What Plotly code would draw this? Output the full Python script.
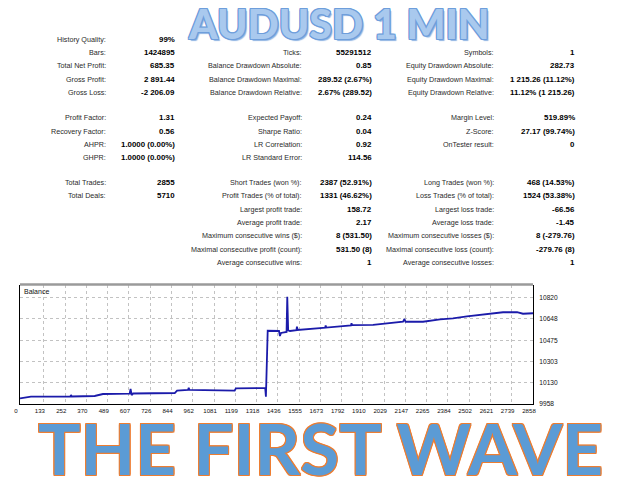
import plotly.graph_objects as go

# ---------------- data ----------------
balance_x = [0, 61, 267, 280, 284, 288, 416, 462, 611, 616, 622, 630, 862, 875, 936, 940, 944,
             1196, 1203, 1366, 1370, 1380, 1443, 1448, 1454, 1485, 1489, 1494, 1504, 1540, 1543,
             1547, 1671, 1700, 1703, 1706, 1844, 1847, 1850, 1967, 2134, 2142, 2148, 2245, 2340,
             2412, 2490, 2563, 2618, 2691, 2769, 2802, 2858]
balance_y = [10004, 10017, 10017, 10018, 10031, 10019, 10023, 10039, 10042, 10080, 10031, 10043,
             10047, 10067, 10072, 10090, 10072, 10067, 10085, 10088, 10017, 10552, 10550, 10509,
             10534, 10542, 10828, 10555, 10550, 10556, 10585, 10558, 10574, 10577, 10595, 10578,
             10596, 10612, 10597, 10599, 10625, 10647, 10625, 10625, 10645, 10653, 10669, 10680,
             10694, 10702, 10702, 10690, 10694]

x_ticks = [0, 133, 252, 370, 489, 607, 726, 844, 962, 1081, 1199, 1318, 1436, 1555, 1673,
           1792, 1910, 2029, 2147, 2265, 2384, 2502, 2621, 2739, 2858]
y_ticks = [9958, 10130, 10303, 10475, 10648, 10820]

col1_labels = ["History Quality:", "Bars:", "Total Net Profit:", "Gross Profit:", "Gross Loss:",
               "Profit Factor:", "Recovery Factor:", "AHPR:", "GHPR:",
               "Total Trades:", "Total Deals:", "", "", "", "", ""]
col1_values = ["99%", "1424895", "685.35", "2 891.44", "-2 206.09",
               "1.31", "0.56", "1.0000 (0.00%)", "1.0000 (0.00%)",
               "2855", "5710", "", "", "", "", ""]
col2_labels = ["", "Ticks:", "Balance Drawdown Absolute:", "Balance Drawdown Maximal:",
               "Balance Drawdown Relative:", "Expected Payoff:", "Sharpe Ratio:", "LR Correlation:",
               "LR Standard Error:", "Short Trades (won %):", "Profit Trades (% of total):",
               "Largest profit trade:", "Average profit trade:", "Maximum consecutive wins ($):",
               "Maximal consecutive profit (count):", "Average consecutive wins:"]
col2_values = ["", "55291512", "0.85", "289.52 (2.67%)", "2.67% (289.52)", "0.24", "0.04", "0.92",
               "114.56", "2387 (52.91%)", "1331 (46.62%)", "158.72", "2.17", "8 (531.50)",
               "531.50 (8)", "1"]
col3_labels = ["", "Symbols:", "Equity Drawdown Absolute:", "Equity Drawdown Maximal:",
               "Equity Drawdown Relative:", "Margin Level:", "Z-Score:", "OnTester result:", "",
               "Long Trades (won %):", "Loss Trades (% of total):", "Largest loss trade:",
               "Average loss trade:", "Maximum consecutive losses ($):",
               "Maximal consecutive loss (count):", "Average consecutive losses:"]
col3_values = ["", "1", "282.73", "1 215.26 (11.12%)", "11.12% (1 215.26)", "519.89%",
               "27.17 (99.74%)", "0", "", "468 (14.53%)", "1524 (53.38%)", "-66.56", "-1.45",
               "8 (-279.76)", "-279.76 (8)", "1"]

title_top = "AUDUSD 1 MIN"
title_bottom = "THE FIRST WAVE"
chart_label = "Balance"

# ---------------- layout constants ----------------
W, H = 640, 480
row_px = [39.3, 52.7, 66, 79.3, 92.7, 117.8, 131, 144.3, 157.5, 182.5, 195.8, 209, 222.3, 235.8, 249, 262.3]
cols = [  # (label right edge px, value right edge px)
    (108, 177),
    (304, 373.5),
    (495.7, 577),
]
LABEL_FONT = dict(family="Liberation Sans, Arial, sans-serif", size=7.2, color="#2a2a2a")
VALUE_FONT = dict(family="Liberation Sans, Arial, sans-serif", size=7.9, color="#000000", weight="bold")
TICK_FONT = dict(family="Liberation Sans, Arial, sans-serif", size=6.1, color="#111")

fig = go.Figure()
fig.add_trace(go.Scatter(x=balance_x, y=balance_y, mode="lines",
                         line=dict(color="#1b1baa", width=1.8), hoverinfo="skip",
                         showlegend=False))

x0p, x1p, ybp, ytp = 20, 533, 404, 284.5
fig.update_layout(
    width=W, height=H, margin=dict(l=0, r=0, t=0, b=0, autoexpand=False),
    paper_bgcolor="white", plot_bgcolor="white", showlegend=False,
    xaxis=dict(domain=[x0p / W, x1p / W], range=[0, 2858], tickvals=x_ticks,
               ticktext=[str(v) for v in x_ticks], showgrid=True, gridcolor="#c2c2c2",
               griddash="3px,3px", gridwidth=1, zeroline=False, showline=True,
               linecolor="black", linewidth=1, ticks="", ticklabelshift=-4,
               ticklabelstandoff=1, automargin=False, tickfont=TICK_FONT),
    yaxis=dict(domain=[1 - ybp / H, 1 - ytp / H], range=[9958, 10927], side="right",
               tickvals=y_ticks, ticktext=[str(v) for v in y_ticks], showgrid=True,
               gridcolor="#c2c2c2", griddash="3px,3px", gridwidth=1, zeroline=False,
               showline=True, linecolor="black", linewidth=1, mirror=True, ticks="",
               ticklabelstandoff=4, automargin=False,
               tickfont=dict(family="Liberation Sans, Arial, sans-serif", size=6.6, color="#111")),
)

# top border of chart (grey, thicker)
fig.add_shape(type="line", xref="x domain", yref="y domain", x0=0, x1=1, y0=1, y1=1,
              line=dict(color="#9a9a9a", width=2.5))

annotations = []
annotations.append(dict(text=chart_label, xref="x domain", yref="y domain", x=0.004, y=0.985,
                        xanchor="left", yanchor="top", showarrow=False,
                        font=dict(family="Liberation Sans, Arial, sans-serif", size=7, color="#111")))

for (lab_px, val_px), labels, values in zip(cols, [col1_labels, col2_labels, col3_labels],
                                            [col1_values, col2_values, col3_values]):
    for rp, lab, val in zip(row_px, labels, values):
        if lab:
            annotations.append(dict(text=lab, xref="paper", yref="paper", x=lab_px / W,
                                    y=1 - rp / H, xanchor="right", yanchor="middle",
                                    showarrow=False, font=LABEL_FONT))
        if val:
            annotations.append(dict(text=val, xref="paper", yref="paper", x=val_px / W,
                                    y=1 - rp / H, xanchor="right", yanchor="middle",
                                    showarrow=False, font=VALUE_FONT))

o1 = "#6e9edb"
annotations.append(dict(
    text=title_top, xref="paper", yref="paper", x=339 / W, y=1 - 23 / H,
    xanchor="center", yanchor="middle", showarrow=False,
    font=dict(family="Lato, Open Sans, sans-serif", size=41, color="#a9c9ee", weight=900,
              shadow=f"1px 0 0 {o1}, -1px 0 0 {o1}, 0 1px 0 {o1}, 0 -1px 0 {o1}, "
                     f"1px 1px 0 {o1}, -1px -1px 0 {o1}, 1px -1px 0 {o1}, -1px 1px 0 {o1}, "
                     f"2px 2px 1px #8fb4e3")))

o2 = "#ed7d31"
annotations.append(dict(
    text=title_bottom, xref="paper", yref="paper", x=320 / W, y=1 - 447 / H,
    xanchor="center", yanchor="middle", showarrow=False,
    font=dict(family="Lato, Open Sans, sans-serif", size=71, color="#5b9bd5", weight=700,
              shadow=f"1px 0 0 {o2}, -1px 0 0 {o2}, 0 1px 0 {o2}, 0 -1px 0 {o2}, "
                     f"1px 1px 0 {o2}, -1px -1px 0 {o2}, 1px -1px 0 {o2}, -1px 1px 0 {o2}")))

fig.update_layout(annotations=annotations)
fig.write_html("out.html", config={"displayModeBar": False},
               post_script="document.body.style.margin='0';document.body.style.overflow='hidden';")
